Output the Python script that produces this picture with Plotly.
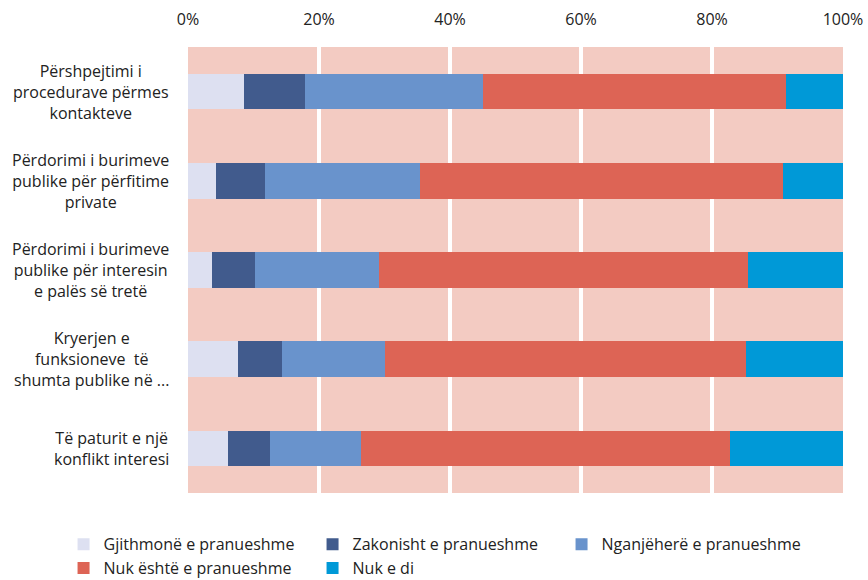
import plotly.graph_objects as go

categories = [
    "Përshpejtimi i<br>procedurave përmes<br>kontakteve",
    "Përdorimi i burimeve<br>publike për përfitime<br>private",
    "Përdorimi i burimeve<br>publike për interesin<br>e palës së tretë",
    "Kryerjen e<br>funksioneve  të<br>shumta publike në ...",
    "Të paturit e një<br>konflikt interesi",
]
series_names = [
    "Gjithmonë e pranueshme",
    "Zakonisht e pranueshme",
    "Nganjëherë e pranueshme",
    "Nuk është e pranueshme",
    "Nuk e di",
]
gjithmone = [8.6, 4.2, 3.6, 7.7, 6.1]
zakonisht = [9.2, 7.6, 6.7, 6.7, 6.4]
nganjehere = [27.2, 23.6, 18.8, 15.6, 13.9]
nuk_eshte = [46.3, 55.5, 56.4, 55.2, 56.3]
nuk_e_di = [8.7, 9.1, 14.5, 14.8, 17.3]
series_values = [gjithmone, zakonisht, nganjehere, nuk_eshte, nuk_e_di]
colors = ["#DDE0F1", "#415B8D", "#6993CC", "#DD6455", "#0099D7"]
tick_vals = [0, 20, 40, 60, 80, 100]
tick_text = ["0%", "20%", "40%", "60%", "80%", "100%"]

FONT = "Open Sans"
FS = 16
TXT = "#222222"
fig = go.Figure()
for name, vals, col in zip(series_names, series_values, colors):
    fig.add_trace(go.Bar(
        y=categories, x=vals, name=name, orientation="h",
        marker=dict(color=col, line=dict(width=0)),
        width=0.4,
    ))

for cat in categories:
    fig.add_annotation(
        x=0, xref="paper", y=cat, yref="y", text=cat,
        showarrow=False, xanchor="right", align="center",
        xshift=-17, font=dict(family=FONT, size=FS, color=TXT),
    )

fig.update_layout(
    width=868, height=580,
    barmode="stack",
    plot_bgcolor="#F3CBC2",
    paper_bgcolor="white",
    margin=dict(l=188, r=25, t=47, b=87, autoexpand=False),
    font=dict(family=FONT, size=FS, color=TXT),
    xaxis=dict(
        side="top", range=[0, 100], tickvals=tick_vals, ticktext=tick_text,
        showgrid=True, gridcolor="white", gridwidth=4, zeroline=False,
        showline=False, ticks="", ticklabelstandoff=18,
        tickfont=dict(family=FONT, size=FS, color=TXT),
    ),
    yaxis=dict(
        autorange="reversed", showticklabels=False, showgrid=False,
        zeroline=False, ticks="",
    ),
    legend=dict(
        orientation="h", x=-0.19, xanchor="left", y=-0.077, yanchor="top",
        entrywidth=204, entrywidthmode="pixels", traceorder="normal",
        font=dict(family=FONT, size=FS, color=TXT),
        itemclick=False, tracegroupgap=0,
    ),
    showlegend=True,
)

fig.write_html(
    "out.html",
    config={"displayModeBar": False},
    post_script="document.body.style.margin='0';",
)
